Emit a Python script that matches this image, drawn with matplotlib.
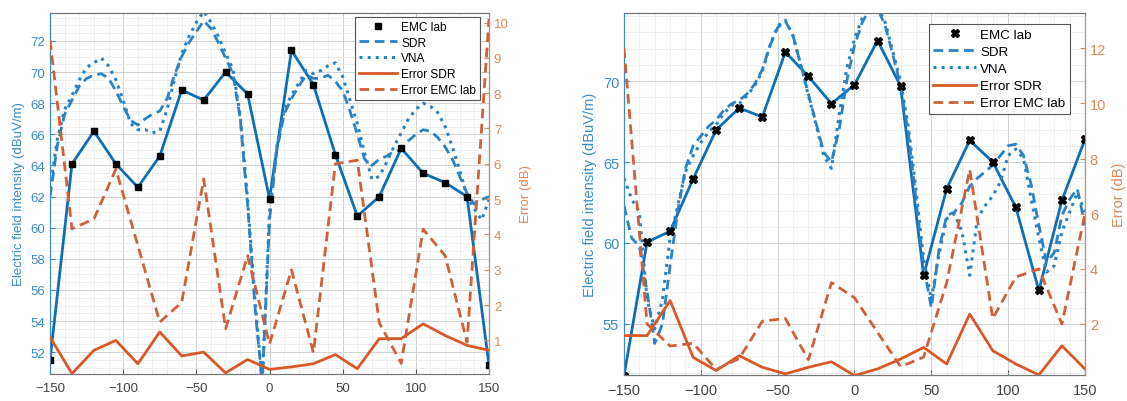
import matplotlib
matplotlib.use('Agg')
import matplotlib.pyplot as plt
from matplotlib.ticker import MultipleLocator, FixedLocator
from matplotlib.lines import Line2D

plt.rcParams['font.family'] = ['Liberation Sans', 'DejaVu Sans']

# ---------------- data ----------------
angles15 = list(range(-150, 151, 15))
angles5 = list(range(-150, 151, 5))

# left panel
L_emc = [51.5, 64.1, 66.2, 64.1, 62.6, 64.6, 68.85, 68.2, 70.0, 68.6, 61.86,
         71.4, 69.2, 64.7, 60.75, 62.0, 65.1, 63.5, 62.9, 62.0, 51.16]
L_sdr = [62.0, 65.3, 67.3, 68.2, 69.1, 69.6, 69.8, 69.9, 69.6, 68.8, 67.8, 66.9,
         66.6, 67.0, 67.3, 67.5, 68.3, 69.8, 71.0, 71.9, 72.6, 73.3, 72.8, 71.9,
         70.9, 69.9, 67.0, 61.5, 55.0, 50.0, 60.5, 65.0, 67.3, 68.3, 69.1, 69.8,
         69.6, 69.6, 69.8, 69.4, 68.8, 67.5, 66.0, 64.4, 64.0, 64.4, 64.6, 64.9,
         65.0, 65.6, 66.0, 66.3, 66.2, 65.8, 65.2, 64.4, 63.3, 62.2, 61.5, 61.8, 62.0]
L_vna = [62.5, 65.7, 67.6, 68.5, 69.5, 70.3, 70.6, 70.9, 70.4, 69.5, 68.2, 66.7,
         66.3, 66.3, 66.1, 66.2, 67.6, 69.5, 71.2, 72.3, 73.2, 73.9, 73.2, 72.3,
         71.2, 70.2, 67.2, 61.8, 55.4, 50.0, 61.0, 65.2, 67.6, 68.5, 69.3, 70.1,
         69.9, 70.1, 70.4, 70.6, 69.7, 68.2, 66.7, 64.8, 63.1, 63.3, 64.2, 65.2,
         66.1, 67.0, 67.6, 68.0, 67.8, 67.4, 66.5, 65.2, 63.7, 62.0, 61.2, 60.5, 61.8]
L_err_sdr = [1.09, 0.06, 0.72, 1.0, 0.34, 1.24, 0.56, 0.67, 0.08, 0.46, 0.18,
             0.25, 0.34, 0.6, 0.2, 1.05, 1.05, 1.47, 1.14, 0.86, 0.72]
L_err_emc = [9.5, 4.16, 4.44, 5.85, 3.69, 1.52, 2.08, 5.57, 1.33, 3.4, 0.9,
             3.0, 0.65, 6.0, 6.1, 1.5, 0.35, 4.15, 3.4, 0.95, 10.1]

# right panel
R_emc = [51.81, 60.05, 60.73, 63.96, 66.99, 68.33, 67.78, 71.79, 70.29, 68.6, 69.77,
         72.5, 69.69, 58.0, 63.35, 66.33, 65.0, 62.2, 57.07, 62.63, 66.4]
R_sdr = [62.3, 60.3, 59.8, 57.0, 53.8, 55.0, 58.6, 62.0, 64.6, 66.0, 66.6, 67.2,
         67.6, 68.2, 68.6, 68.8, 69.2, 69.8, 70.7, 72.2, 73.3, 73.7, 72.8, 71.0,
         69.2, 67.4, 65.6, 65.0, 67.0, 70.0, 72.2, 73.6, 74.5, 74.5, 73.4, 71.6,
         69.7, 66.8, 62.7, 58.6, 56.0, 59.6, 61.7, 61.9, 62.5, 63.5, 64.0, 64.4,
         64.8, 65.4, 66.0, 66.1, 65.4, 63.6, 61.1, 58.8, 59.4, 61.7, 62.7, 63.35, 61.1]
R_vna = [64.0, 62.7, 61.9, 56.5, 54.7, 56.5, 60.3, 62.3, 64.4, 65.4, 66.2, 66.85,
         67.3, 68.0, 68.5, 68.6, 69.1, 69.7, 70.6, 72.2, 73.4, 73.75, 72.8, 71.0,
         69.1, 67.3, 65.4, 64.6, 67.9, 70.8, 72.6, 73.9, 74.6, 74.6, 73.6, 71.8,
         70.0, 67.2, 63.3, 59.0, 56.5, 59.3, 61.5, 61.8, 60.7, 58.0, 61.5, 62.3,
         62.9, 63.8, 65.4, 65.8, 65.2, 62.7, 60.3, 58.2, 58.6, 60.7, 61.9, 63.1, 61.9]
R_err_sdr = [1.58, 1.58, 2.85, 0.79, 0.31, 0.85, 0.43, 0.19, 0.43, 0.63, 0.13,
             0.37, 0.73, 1.15, 0.55, 2.36, 1.03, 0.55, 0.15, 1.21, 0.37]
R_err_emc = [12.0, 2.0, 1.2, 1.3, 0.35, 0.75, 2.1, 2.2, 0.7, 3.5, 2.95,
             1.7, 0.45, 0.8, 3.5, 7.6, 2.2, 3.7, 4.0, 2.0, 6.0]

xticks = [-150, -100, -50, 0, 50, 100, 150]
L_yticks = [52, 54, 56, 58, 60, 62, 64, 66, 68, 70, 72]
L_eticks = [1, 2, 3, 4, 5, 6, 7, 8, 9, 10]
R_yticks = [55, 60, 65, 70]
R_eticks = [2, 4, 6, 8, 10, 12]
legend_labels = ['EMC lab', 'SDR', 'VNA', 'Error SDR', 'Error EMC lab']

# ---------------- style ----------------
BLUE = '#0f6fb5'
BLUE2 = '#2b82c4'
BLUE_TXT = '#3a8cc6'
ORANGE = '#d9582a'
ORANGE2 = '#cf603a'
ORANGE_TXT = '#d98a5c'
GRAY = '#5a5a5a'
DASH = (3.5, 2.0)

fig = plt.figure(figsize=(11.27, 4.02), dpi=100)


def panel(rect, emc, sdr, vna, esdr, eemc, ylim, elim, yticks, eticks,
          yminor, marker, msize, fs, legfs, legspace, leganchor, elabelpad):
    ax = fig.add_axes(rect)
    ax.plot(angles15, emc, '-', color=BLUE, lw=2.0, zorder=3)
    ax.plot(angles5, sdr, '--', color=BLUE2, lw=2.0, dashes=DASH, zorder=3)
    ax.plot(angles5, vna, ':', color=BLUE2, lw=2.2, zorder=3)
    ax.plot(angles15, emc, linestyle='none', marker=marker, color='black',
            ms=msize, zorder=4)
    ax.set_xlim(-150, 150)
    ax.set_ylim(*ylim)
    ax.xaxis.set_major_locator(FixedLocator(xticks))
    ax.xaxis.set_minor_locator(MultipleLocator(10))
    ax.yaxis.set_major_locator(FixedLocator(yticks))
    ax.yaxis.set_minor_locator(MultipleLocator(yminor))
    ax.grid(which='major', color='#d2d2d2', lw=0.7)
    ax.grid(which='minor', color='#eaeaea', lw=0.5)
    ax.set_axisbelow(True)
    ax.tick_params(axis='both', which='both', direction='in', labelsize=fs)
    ax.tick_params(axis='x', colors=GRAY, labelcolor='#444444', pad=6)
    ax.tick_params(axis='y', colors=BLUE_TXT, labelcolor=BLUE_TXT)
    ax.tick_params(which='minor', length=0)
    ax.set_ylabel('Electric field intensity (dBuV/m)', color=BLUE_TXT, fontsize=fs)
    for s in ('top', 'bottom'):
        ax.spines[s].set_color('#777777')
    ax.spines['left'].set_color(BLUE_TXT)

    ax2 = ax.twinx()
    ax2.plot(angles15, esdr, '-', color=ORANGE, lw=2.0, zorder=3)
    ax2.plot(angles15, eemc, '--', color=ORANGE2, lw=2.0, dashes=DASH, zorder=3)
    ax2.set_ylim(*elim)
    ax2.yaxis.set_major_locator(FixedLocator(eticks))
    ax2.tick_params(axis='y', direction='in', colors=ORANGE_TXT,
                    labelcolor=ORANGE_TXT, labelsize=fs)
    ax2.set_ylabel('Error (dB)', color=ORANGE_TXT, fontsize=fs, labelpad=elabelpad)
    ax2.spines['right'].set_color(ORANGE_TXT)
    ax2.spines['left'].set_color(BLUE_TXT)
    for s in ('top', 'bottom'):
        ax2.spines[s].set_color('#777777')

    handles = [
        Line2D([], [], linestyle='none', marker=marker, color='black', ms=msize),
        Line2D([], [], linestyle='--', dashes=DASH, color=BLUE2, lw=2.0),
        Line2D([], [], linestyle=':', color=BLUE2, lw=2.2),
        Line2D([], [], linestyle='-', color=ORANGE, lw=2.0),
        Line2D([], [], linestyle='--', dashes=DASH, color=ORANGE2, lw=2.0),
    ]
    leg = ax2.legend(handles, legend_labels, loc='upper right',
                     bbox_to_anchor=leganchor, fontsize=legfs,
                     frameon=True, fancybox=False, framealpha=1,
                     edgecolor='#555555', borderaxespad=0.0,
                     handlelength=3.2, handletextpad=0.3, labelspacing=legspace,
                     borderpad=0.35)
    leg.get_frame().set_linewidth(0.8)
    return ax, ax2


panel([0.0444, 0.0672, 0.3895, 0.898], L_emc, L_sdr, L_vna, L_err_sdr, L_err_emc,
      (50.6, 73.8), (0.05, 10.27), L_yticks, L_eticks, 0.5, 's', 5,
      9.5, 8.6, 0.32, (0.98, 0.99), 8)
panel([0.5537, 0.0647, 0.409, 0.9005], R_emc, R_sdr, R_vna, R_err_sdr, R_err_emc,
      (51.85, 74.2), (0.15, 13.28), R_yticks, R_eticks, 1, 'X', 6,
      10.5, 9.6, 0.36, (0.967, 0.97), 4)

fig.savefig('out.png', dpi=100)
